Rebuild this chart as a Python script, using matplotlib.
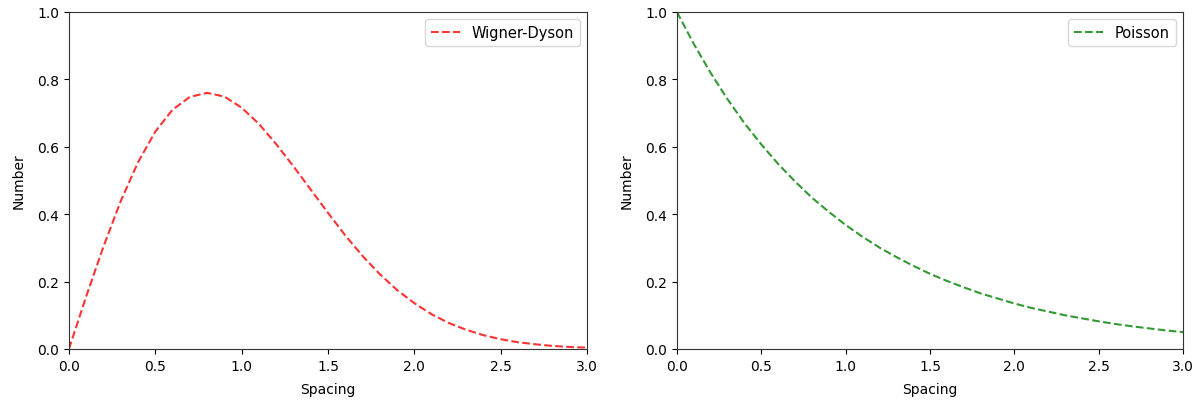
import matplotlib
matplotlib.use("Agg")
import matplotlib.pyplot as plt

# spacing values (step 0.1)
spacing = [0.0, 0.1, 0.2, 0.3, 0.4, 0.5, 0.6, 0.7, 0.8, 0.9, 1.0,
           1.1, 1.2, 1.3, 1.4, 1.5, 1.6, 1.7, 1.8, 1.9, 2.0,
           2.1, 2.2, 2.3, 2.4, 2.5, 2.6, 2.7, 2.8, 2.9, 3.0]

wigner_dyson = [0.000, 0.156, 0.304, 0.439, 0.554, 0.645, 0.710, 0.748, 0.760, 0.749, 0.716,
                0.668, 0.608, 0.542, 0.473, 0.404, 0.337, 0.276, 0.222, 0.175, 0.136,
                0.103, 0.077, 0.057, 0.041, 0.029, 0.020, 0.014, 0.009, 0.006, 0.004]

poisson = [1.000, 0.905, 0.819, 0.741, 0.670, 0.607, 0.549, 0.497, 0.449, 0.407, 0.368,
           0.333, 0.301, 0.273, 0.247, 0.223, 0.202, 0.183, 0.165, 0.150, 0.135,
           0.122, 0.111, 0.100, 0.091, 0.082, 0.074, 0.067, 0.061, 0.055, 0.050]

fig = plt.figure(figsize=(11.99, 4.02), dpi=100)
ax1 = fig.add_axes([0.0575, 0.1294, 0.4321, 0.8383])
ax2 = fig.add_axes([0.5646, 0.1294, 0.4221, 0.8383])

ax1.plot(spacing, wigner_dyson, "r--", alpha=0.8, label="Wigner-Dyson")
ax2.plot(spacing, poisson, "g--", alpha=0.8, label="Poisson")

for ax in (ax1, ax2):
    ax.set_xlim(0, 3)
    ax.set_ylim(0, 1)
    ax.set_xlabel("Spacing", labelpad=6.5)
    ax.set_ylabel("Number", labelpad=8)
    ax.legend(loc="upper right", fontsize=10.5)
    for s in ax.spines.values():
        s.set_color("#333333")

fig.savefig("out.png", dpi=100)
